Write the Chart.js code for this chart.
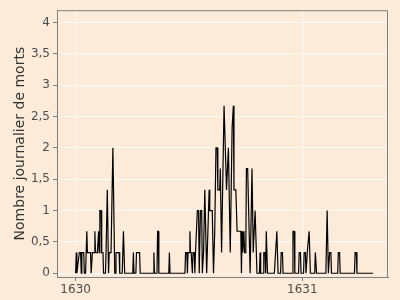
<!DOCTYPE html>
<html>
<head>
<meta charset="utf-8">
<script src="https://cdn.jsdelivr.net/npm/chart.js@4/dist/chart.umd.min.js"></script>
<style>
  body { margin: 0; background: #fbebd8; }
  #plot { display: block; }
</style>
</head>
<body>
<canvas id="plot" width="400" height="300"></canvas>
<script>
// days counted from 1 Jan 1630, daily deaths (3-day mean)
const days = [0, 1, 2, 6, 8, 9, 10, 13, 14, 16, 18, 19, 24, 25, 26, 27, 30, 31, 32, 35, 37, 38, 39, 41, 42, 44, 45, 48, 49, 50, 51, 53, 54, 57, 60, 63, 64, 65, 70, 71, 75, 77, 79,
  92, 93, 94, 97, 98, 103, 104, 125, 126, 127, 131, 132, 133, 134, 150, 151, 152,
  176, 177, 179, 180, 181, 183, 184, 185, 186, 188, 189, 191, 192, 193, 196, 198, 199, 200, 201, 203, 204, 206, 208, 211, 213, 215, 216, 220, 222, 224, 226, 228, 229, 232, 233, 235, 239,
  243, 246, 249, 252, 253, 254, 255, 258, 260, 266, 267, 268, 269, 271, 272, 274, 275, 277, 281, 284, 286, 289, 292, 296, 297, 298, 302, 303, 305, 306, 307, 308, 309,
  320, 322, 324, 326, 330, 331, 333, 334, 349, 350, 352, 353, 359, 360, 362, 363, 367, 368, 370, 371, 373, 374, 376, 378, 385, 386, 387, 388,
  403, 405, 407, 409, 411, 412, 422, 423, 425, 426, 449, 450, 452, 453, 479];
const deaths = [0, 0.33, 0, 0.33, 0.33, 0, 0.33, 0.33, 0, 0, 0.67, 0.33, 0.33, 0, 0, 0.33, 0.33, 0.67, 0.33, 0.33, 0.67, 0.33, 1, 1, 0.33, 0.33, 0, 0, 0.33, 0.33, 1.33, 0, 0.33, 0.33, 2, 0, 0, 0.33, 0.33, 0, 0, 0.67, 0,
  0, 0.33, 0, 0, 0.33, 0.33, 0, 0, 0.33, 0, 0, 0.67, 0.67, 0, 0, 0.33, 0,
  0, 0.33, 0.33, 0, 0.33, 0.33, 0.67, 0.33, 0.33, 0, 0.33, 0.33, 0, 0.33, 1, 1, 0, 0, 1, 1, 0, 0.33, 1.33, 0, 0.67, 1.33, 1, 1, 0, 0.67, 2, 2, 1.33, 1.33, 1.67, 0.33, 2.67,
  1.33, 2, 0.33, 2.33, 2.33, 2.67, 1.33, 1.33, 0.67, 0.67, 0, 0.67, 0.33, 0.67, 0.33, 0.33, 1.67, 1.67, 0, 1.67, 0.33, 1, 0, 0, 0.33, 0, 0, 0.33, 0.33, 0, 0.67, 0.67, 0,
  0, 0.33, 0.67, 0, 0, 0.33, 0.33, 0, 0, 0.67, 0.67, 0, 0, 0.33, 0.33, 0, 0, 0.33, 0.33, 0, 0.33, 0.33, 0.67, 0, 0, 0.33, 0.33, 0,
  0, 1, 0, 0.33, 0.33, 0, 0, 0.33, 0.33, 0, 0, 0.33, 0.33, 0, 0];

const xTickDays = [0, 365];
const xTickLabels = ['1630', '1631'];
const yTicks = [0, 0.5, 1, 1.5, 2, 2.5, 3, 3.5, 4];

const points = days.map((d, i) => ({ x: d, y: deaths[i] }));

const frame = {
  id: 'frame',
  beforeDraw(chart) {
    const c = chart.ctx;
    c.save();
    c.fillStyle = '#fbebd8';
    c.fillRect(0, 0, chart.width, chart.height);
    c.restore();
  },
  afterDraw(chart) {
    const a = chart.chartArea;
    const c = chart.ctx;
    c.save();
    c.strokeStyle = '#808080';
    c.lineWidth = 1;
    c.beginPath();
    c.moveTo(a.left, a.top + 0.5);
    c.lineTo(a.right - 0.5, a.top + 0.5);
    c.lineTo(a.right - 0.5, a.bottom);
    c.stroke();
    c.restore();
  }
};

const ctx = document.getElementById('plot').getContext('2d');
const chart = new Chart(ctx, {
  type: 'line',
  data: {
    datasets: [{
      data: points,
      borderColor: '#000000',
      borderWidth: 1.2,
      pointRadius: 0,
      tension: 0
    }]
  },
  options: {
    responsive: false,
    animation: false,
    layout: { padding: { top: 10, right: 12, left: 0, bottom: 0 } },
    plugins: { legend: { display: false }, tooltip: { enabled: false } },
    scales: {
      x: {
        type: 'linear',
        min: -30,
        max: 503,
        afterFit: (s) => { s.height = 23; },
        afterBuildTicks: (s) => { s.ticks = xTickDays.map(v => ({ value: v })); },
        ticks: {
          color: '#4d4d4d',
          font: { family: 'DejaVu Sans', size: 12 },
          padding: 2,
          maxRotation: 0,
          callback: (v) => xTickLabels[xTickDays.indexOf(v)]
        },
        grid: {
          color: 'rgba(255,255,255,0.75)',
          borderDash: [3, 3],
          tickLength: 4,
          tickColor: '#808080',
          tickBorderDash: []
        },
        border: { display: true, color: '#808080', width: 1 }
      },
      y: {
        min: -0.06,
        max: 4.196,
        afterFit: (s) => { s.width = 57; },
        afterBuildTicks: (s) => { s.ticks = yTicks.map(v => ({ value: v })); },
        ticks: {
          color: '#4d4d4d',
          font: { family: 'DejaVu Sans', size: 12 },
          padding: 3,
          callback: (v) => String(v).replace('.', ',')
        },
        grid: {
          color: 'rgba(255,255,255,0.75)',
          borderDash: [3, 3],
          tickLength: 4,
          tickColor: '#808080',
          tickBorderDash: []
        },
        border: { display: true, color: '#808080', width: 1 },
        title: {
          display: true,
          text: 'Nombre journalier de morts',
          color: '#333333',
          font: { family: 'DejaVu Sans', size: 14 },
          padding: { top: 12, bottom: 0 }
        }
      }
    }
  },
  plugins: [frame]
});
</script>
</body>
</html>
